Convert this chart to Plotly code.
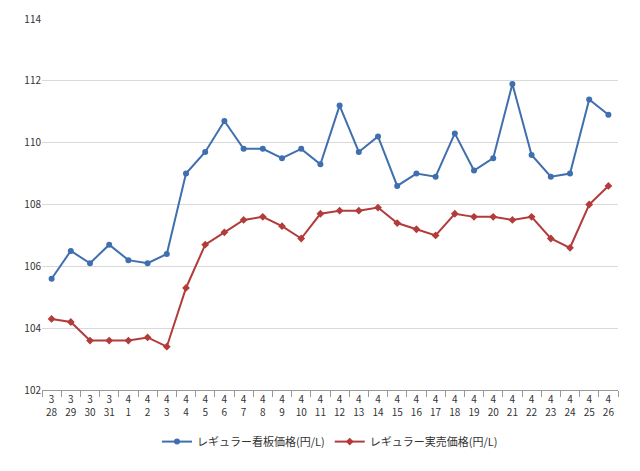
import plotly.graph_objects as go

months = ["3"] * 4 + ["4"] * 26
days = ["28", "29", "30", "31"] + [str(d) for d in range(1, 27)]
labels = [f"{m}<br>{d}" for m, d in zip(months, days)]

signboard = [105.6, 106.5, 106.1, 106.7, 106.2, 106.1, 106.4, 109.0, 109.7, 110.7,
             109.8, 109.8, 109.5, 109.8, 109.3, 111.2, 109.7, 110.2, 108.6, 109.0,
             108.9, 110.3, 109.1, 109.5, 111.9, 109.6, 108.9, 109.0, 111.4, 110.9]
actual = [104.3, 104.2, 103.6, 103.6, 103.6, 103.7, 103.4, 105.3, 106.7, 107.1,
          107.5, 107.6, 107.3, 106.9, 107.7, 107.8, 107.8, 107.9, 107.4, 107.2,
          107.0, 107.7, 107.6, 107.6, 107.5, 107.6, 106.9, 106.6, 108.0, 108.6]

fig = go.Figure()
fig.add_trace(go.Scatter(x=labels, y=signboard, name="レギュラー看板価格(円/L)",
                         mode="lines+markers", line=dict(color="#3f6fae", width=2),
                         marker=dict(symbol="circle", size=6)))
fig.add_trace(go.Scatter(x=labels, y=actual, name="レギュラー実売価格(円/L)",
                         mode="lines+markers", line=dict(color="#b23b3b", width=2),
                         marker=dict(symbol="diamond", size=6)))

fig.update_layout(
    width=640, height=471, plot_bgcolor="white", paper_bgcolor="white",
    margin=dict(l=34, r=30, t=11, b=89, autoexpand=False),
    font=dict(family="Noto Sans CJK JP", size=10, color="#333"),
    xaxis=dict(type="category", showgrid=False, showline=True, linecolor="#999",
               ticks="outside", tickcolor="#999", ticklen=6, tickson="boundaries",
               tickangle=0, automargin=False, range=[-0.5, 29.5]),
    yaxis=dict(range=[102, 114], dtick=2,
               showgrid=True, gridcolor="#d9d9d9",
               zeroline=False, showline=False, ticks="", automargin=False),
    legend=dict(orientation="h", x=0.5, xanchor="center", y=-0.1, yanchor="top",
                font=dict(size=11)),
)

fig.write_html("out.html")
